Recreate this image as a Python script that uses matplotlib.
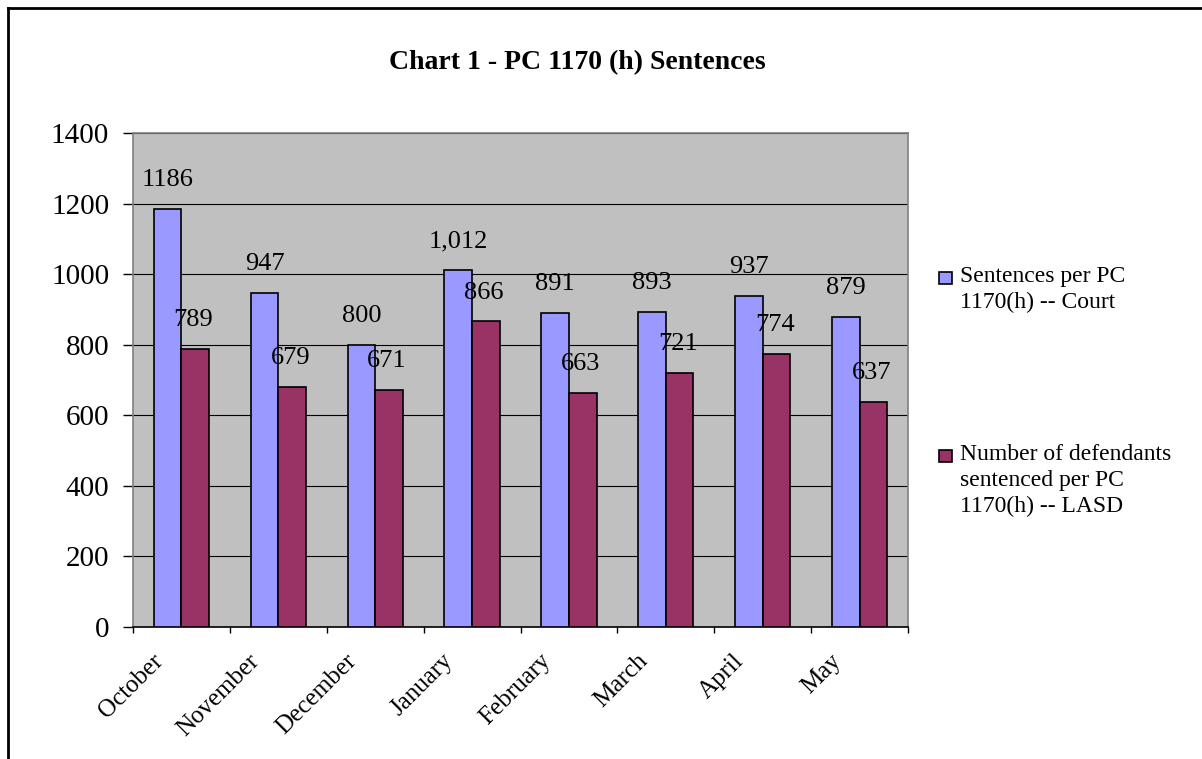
import matplotlib
matplotlib.use("Agg")
import matplotlib.pyplot as plt
from matplotlib.transforms import ScaledTranslation
from matplotlib.patches import Rectangle
from matplotlib.lines import Line2D
import numpy as np

months = ["October", "November", "December", "January", "February", "March", "April", "May"]
court = [1186, 947, 800, 1012, 891, 893, 937, 879]
court_labels = ["1186", "947", "800", "1,012", "891", "893", "937", "879"]
lasd = [789, 679, 671, 866, 663, 721, 774, 637]
lasd_labels = ["789", "679", "671", "866", "663", "721", "774", "637"]
series_names = ["Sentences per PC\n1170(h) -- Court",
                "Number of defendants\nsentenced per PC\n1170(h) -- LASD"]
title = "Chart 1 - PC 1170 (h) Sentences"
yticks = [0, 200, 400, 600, 800, 1000, 1200, 1400]

plt.rcParams['font.family'] = ['Liberation Serif', 'DejaVu Serif']

W, H = 1202, 759
fig = plt.figure(figsize=(W / 100, H / 100), dpi=100)
ax = fig.add_axes([133 / W, 1 - 627 / H, (908 - 133) / W, (627 - 133) / H])
ax.set_facecolor('#C0C0C0')

blue = '#9999FF'
red = '#993366'
bw = 1 / 3.5
x = np.arange(len(months))
b1 = ax.bar(x - bw / 2, court, bw, color=blue, edgecolor='black', linewidth=1.2, zorder=3)
b2 = ax.bar(x + bw / 2, lasd, bw, color=red, edgecolor='black', linewidth=1.2, zorder=3)

for rect, lab in zip(b1, court_labels):
    ax.annotate(lab, (rect.get_x() + rect.get_width() / 2, rect.get_height()),
                xytext=(0, 16.5), textcoords='offset points', ha='center', va='baseline',
                fontsize=19, zorder=4)
for rect, lab in zip(b2, lasd_labels):
    ax.annotate(lab, (rect.get_x() + rect.get_width() / 2 - 0.02, rect.get_height()),
                xytext=(0, 16.5), textcoords='offset points', ha='center', va='baseline',
                fontsize=19, zorder=4)

ax.set_xlim(-0.5, len(months) - 0.5)
ax.set_ylim(0, 1400)
ax.set_yticks(yticks)
ax.set_yticklabels([str(v) for v in yticks], fontsize=21)
ax.tick_params(axis='y', length=7.2, width=1, pad=10, color='black')
ax.yaxis.grid(True, color='black', linewidth=0.8)
ax.set_axisbelow(True)

ax.set_xticks(np.arange(-0.5, len(months), 1.0))
ax.set_xticklabels([])
ax.set_xticks(x, minor=True)
ax.set_xticklabels(months, minor=True, rotation=45, ha='right', va='center',
                   rotation_mode='anchor', fontsize=18)
ax.tick_params(axis='x', which='major', length=4, width=1, color='black')
ax.tick_params(axis='x', which='minor', length=0, pad=22)
off = ScaledTranslation(-22 / 100, 0, fig.dpi_scale_trans)
for lbl in ax.get_xticklabels(minor=True):
    lbl.set_transform(lbl.get_transform() + off)

for s in ['top', 'right', 'left']:
    ax.spines[s].set_color('#808080')
    ax.spines[s].set_linewidth(1.2)
ax.spines['bottom'].set_color('black')
ax.spines['bottom'].set_linewidth(1.2)

fig.text(577 / W, 1 - 63 / H, title, ha='center', va='center', fontsize=20, fontweight='bold')

# legend (drawn manually so markers align with first line)
leg_top = [266, 444]
for color, name, yt in zip([blue, red], series_names, leg_top):
    fig.patches.append(Rectangle((939 / W, 1 - (yt + 18) / H), 13 / W, 12 / H,
                                 transform=fig.transFigure, facecolor=color,
                                 edgecolor='black', linewidth=1.2))
    fig.text(960 / W, 1 - yt / H, name, ha='left', va='top', fontsize=17,
             linespacing=1.3)

# outer border (top and left)
fig.add_artist(Line2D([8 / W, 1], [1 - 8 / H, 1 - 8 / H], transform=fig.transFigure,
                      color='black', linewidth=2))
fig.add_artist(Line2D([8 / W, 8 / W], [0, 1 - 8 / H], transform=fig.transFigure,
                      color='black', linewidth=2))

fig.savefig('out.png', dpi=100)
